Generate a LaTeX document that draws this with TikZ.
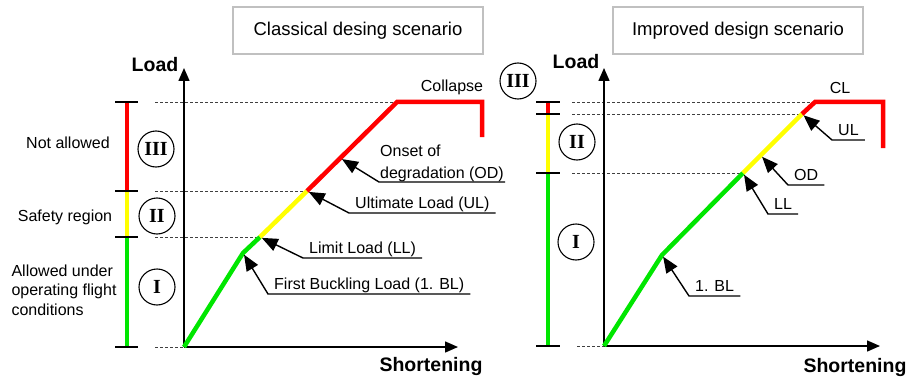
\documentclass[tikz,border=0pt]{standalone}
\usepackage{fontspec}
\setmainfont{Liberation Sans}
\newfontfamily\romanfont{Liberation Serif}
\usetikzlibrary{arrows.meta,calc}
\definecolor{ldgreen}{RGB}{0,230,0}
\definecolor{ldyellow}{RGB}{255,255,0}
\definecolor{ldred}{RGB}{255,0,0}
\definecolor{boxgray}{RGB}{192,192,192}
\newcommand{\lblfont}{\fontsize{16}{19.5}\selectfont}
\newcommand{\titlefont}{\fontsize{18.5}{22}\selectfont}
\newcommand{\axfont}{\fontsize{19.5}{22}\selectfont\bfseries}
\newcommand{\zonefont}{\romanfont\bfseries\fontsize{20}{20}\selectfont}

\begin{document}
\begin{tikzpicture}[x=1pt,y=-1pt,font=\lblfont,
    title/.style={draw=boxgray,line width=2pt,minimum width=250pt,minimum height=47pt,font=\titlefont},
    axis/.style={line width=1.5pt,-{Triangle[length=13pt,width=11pt]}},
    axlabel/.style={font=\axfont,inner sep=0pt},
    curve/.style={line width=4.5pt,line join=miter},
    bar/.style={line width=4.5pt},
    tick/.style={line width=1.6pt},
    level/.style={line width=.7pt,black!75,dash pattern=on 3pt off 2pt},
    zone/.style={circle,draw,line width=1.1pt,minimum size=36pt,inner sep=0pt,font=\zonefont},
    callout/.style={anchor=south west,inner xsep=6pt,inner ysep=0pt},
    oneline/.style={text height=12pt,text depth=4pt},
    pointer/.style={line width=1.4pt,-{Triangle[length=16pt,width=13pt]},shorten >=2pt}]
  \useasboundingbox (0,0) rectangle (917,377);
  \node[title] (scen1) at (358,30.5) {Classical desing scenario};
  \node[title] (scen2) at (738,30.5) {Improved design scenario};

  % classical design
  \coordinate (p1o) at (184,347); \coordinate (p1bl) at (243,253); \coordinate (p1ll) at (260,237);
  \coordinate (p1ul) at (307,191); \coordinate (p1cl) at (397,102); \coordinate (p1ce) at (482,102);
  \coordinate (p1cd) at (482,137); \coordinate (p1od) at ($(p1ul)!.37!(p1cl)$);
  \coordinate (y1) at (184,68); \coordinate (x1) at (458,347); \coordinate (lv1) at (155,0);
  \foreach \p in {p1cl,p1ul,p1ll,p1o} \draw[level] (\p -| lv1) -- (\p);
  \draw[axis] (p1o) -- (y1);
  \draw[axis] (p1o) -- (x1);
  \node[axlabel] (load1) at (155,65) {Load};
  \node[axlabel] (short1) at (431,366) {Shortening};
  \draw[curve,ldgreen] (p1o) -- (p1bl) -- (p1ll);
  \draw[curve,ldyellow] (p1ll) -- (p1ul);
  \draw[curve,ldred] (p1ul) -- (p1cl) -- (p1ce) -- (p1cd);
  \draw[bar,ldred] (127,102) -- (127,191);
  \draw[bar,ldyellow] (127,191) -- (127,237);
  \draw[bar,ldgreen] (127,237) -- (127,347);
  \foreach \y in {102,191,237,347} \draw[tick] (115,\y) -- (138,\y);
  \node[zone] (z1c) at (156,149) {III};
  \node[zone] (z1b) at (157,216) {II};
  \node[zone] (z1a) at (157,287) {I};
  \node (notok) at (68,143) {Not allowed};
  \node (safe) at (65,217) {Safety region};
  \node[align=left,anchor=west] (oper) at (8,290) {Allowed under\\operating flight\\conditions};
  \node (col1) at (452,87) {Collapse};
  \node[callout,inner xsep=1pt,align=left,font=\fontsize{16}{22}\selectfont] (od1) at (379,182) {Onset of\\degradation (OD)};
  \node[callout,oneline] (ul1) at (349,213) {Ultimate Load (UL)};
  \node[callout,oneline] (ll1) at (303,258) {Limit Load (LL)};
  \node[callout,oneline] (bl1) at (268,294) {First Buckling Load (1. BL)};
  \draw[pointer] (od1.south east) -- (od1.south west) -- (p1od);
  \draw[pointer] (ul1.south east) -- (ul1.south west) -- (p1ul);
  \draw[pointer] (ll1.south east) -- (ll1.south west) -- (p1ll);
  \draw[pointer] (bl1.south east) -- (bl1.south west) -- (p1bl);

  % improved design
  \coordinate (p2o) at (604,346); \coordinate (p2bl) at (662,255); \coordinate (p2ll) at (743,173);
  \coordinate (p2ul) at (802,114); \coordinate (p2cl) at (815,102); \coordinate (p2ce) at (883,102);
  \coordinate (p2cd) at (883,148); \coordinate (p2od) at ($(p2ll)!.3!(p2ul)$);
  \coordinate (y2) at (604,68); \coordinate (x2) at (880,346); \coordinate (lv2) at (572,0);
  \foreach \p in {p2cl,p2ul,p2ll} \draw[level] (\p -| lv2) -- (\p);
  \draw[level] (577,346) -- (p2o);
  \draw[axis] (p2o) -- (y2);
  \draw[axis] (p2o) -- (x2);
  \node[axlabel] (load2) at (576,62) {Load};
  \node[axlabel] (short2) at (855,367) {Shortening};
  \draw[curve,ldgreen] (p2o) -- (p2bl) -- (p2ll);
  \draw[curve,ldyellow] (p2ll) -- (p2ul);
  \draw[curve,ldred] (p2ul) -- (p2cl) -- (p2ce) -- (p2cd);
  \draw[bar,ldred] (548,102) -- (548,114);
  \draw[bar,ldyellow] (548,114) -- (548,173);
  \draw[bar,ldgreen] (548,173) -- (548,346);
  \foreach \y in {102,114,173,346} \draw[tick] (536,\y) -- (560,\y);
  \node[zone] (z2c) at (518,81) {III};
  \node[zone] (z2b) at (577,142) {II};
  \node[zone] (z2a) at (576,242) {I};
  \node (col2) at (840,88) {CL};
  \node[callout,oneline] (ul2) at (832,140) {UL};
  \node[callout,oneline] (od2) at (788,185) {OD};
  \node[callout,oneline] (ll2) at (768,214) {LL};
  \node[callout,oneline] (bl2) at (689,296) {1. BL};
  \draw[pointer] (ul2.south east) -- (ul2.south west) -- (p2ul);
  \draw[pointer] (od2.south east) -- (od2.south west) -- (p2od);
  \draw[pointer] (ll2.south east) -- (ll2.south west) -- (p2ll);
  \draw[pointer] (bl2.south east) -- (bl2.south west) -- (p2bl);
\end{tikzpicture}
\end{document}
